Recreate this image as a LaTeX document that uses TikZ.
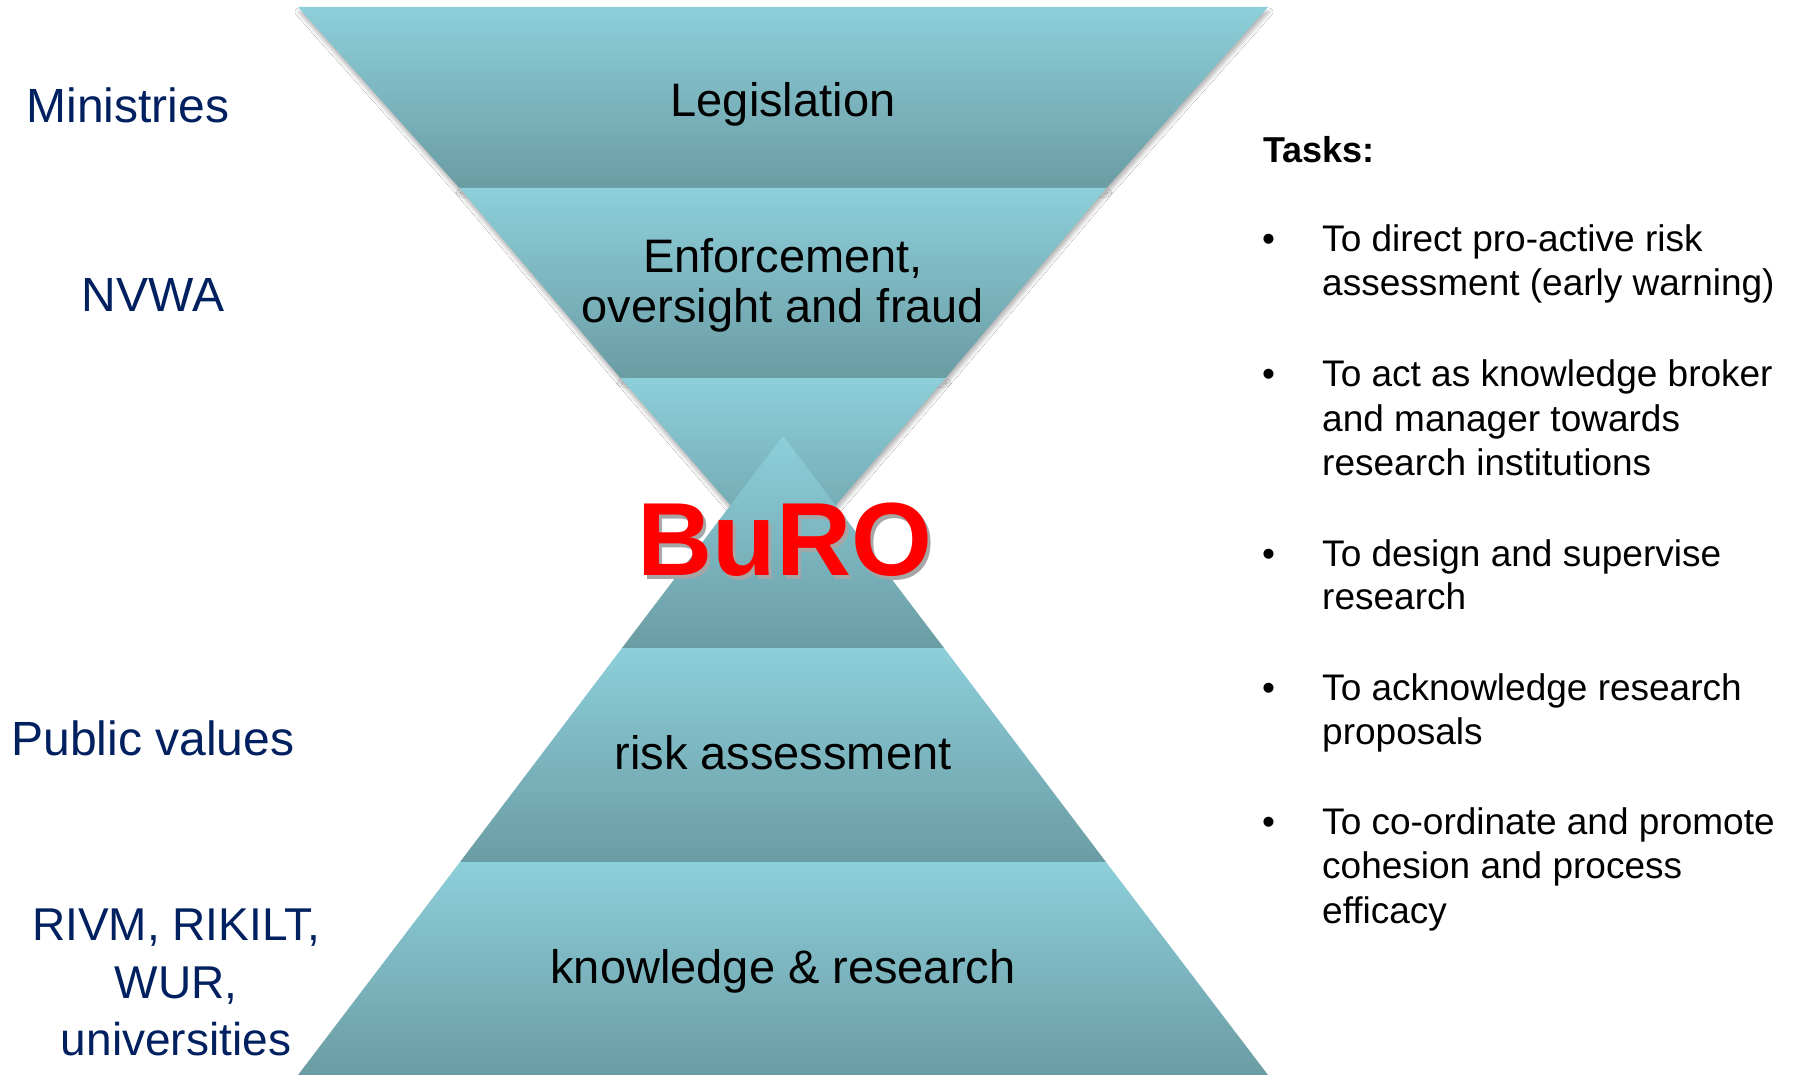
\documentclass[tikz,border=0pt]{standalone}
\usepackage{fontspec}
\setmainfont{Liberation Sans}
\usetikzlibrary{shadows.blur}

\definecolor{bandtop}{HTML}{8DCFDA}
\definecolor{bandbot}{HTML}{6B9CA4}
\definecolor{navy}{HTML}{002060}
\definecolor{burored}{HTML}{FF0000}

\newcommand{\pxfont}[1]{\fontsize{#1}{#1}\selectfont}
% red lettering with a soft grey offset copy behind it
\newcommand{\shadowed}[1]{{\color{black!35}\rlap{\hspace{3pt}\raisebox{-4pt}{#1}}}{\color{burored}#1}}

\begin{document}
\begin{tikzpicture}[x=1pt,y=-1pt,
  band/.style={top color=bandtop, bottom color=bandbot, draw=none},
  fband/.style={band, blur shadow={shadow xshift=1pt, shadow yshift=-5pt,
      shadow blur radius=4pt, shadow opacity=30}},
  bandtext/.style={anchor=base, inner sep=0pt, font=\pxfont{47}, text=black},
  side/.style={anchor=base, inner sep=0pt, font=\pxfont{48}, text=navy},
  sidesmall/.style={side, font=\pxfont{46}},
  task/.style={anchor=base west, inner sep=0pt, font=\pxfont{37}, text=black},
  dot/.style={anchor=base west, inner sep=0pt, font=\pxfont{37}, text=black},
]
\fill[white] (0,0) rectangle (1796,1075);
\useasboundingbox (0,0) rectangle (1796,1075);

% inverted funnel
\path[fband] (298,7) -- (1268,7) -- (1106.5,188) -- (459.5,188) -- cycle;
\path[fband] (459.5,188) -- (1106.5,188) -- (945.5,378) -- (620.5,378) -- cycle;
\path[fband] (620.5,378) -- (945.5,378) -- (783,566) -- cycle;

% upright pyramid
\path[band] (783,436) -- (944,648) -- (622,648) -- cycle;
\path[band] (622,648) -- (944,648) -- (1106,862) -- (460,862) -- cycle;
\path[band] (460,862) -- (1106,862) -- (1268,1075) -- (298,1075) -- cycle;

% level labels
\node[bandtext] (legis) at (783,117) {Legislation};
\node[bandtext] (enf1) at (783,273) {Enforcement,};
\node[bandtext] (enf2) at (783,322) {oversight and fraud};
\node[bandtext] (risk) at (783,769) {risk assessment};
\node[bandtext] (know) at (783,983) {knowledge \& research};

% centre mark
\node[anchor=base, inner sep=0pt, font=\bfseries\pxfont{104}]
  (buro) at (785,575) {\shadowed{BuRO}};

% actors
\node[side] (min) at (128,123) {Ministries};
\node[side] (nvwa) at (153,312) {NVWA};
\node[side] (pub) at (153,755) {Public values};
\node[sidesmall] (inst1) at (176,940) {RIVM, RIKILT,};
\node[sidesmall] (inst2) at (176,998) {WUR,};
\node[sidesmall] (inst3) at (176,1055) {universities};

% tasks
\node[anchor=base west, inner sep=0pt, font=\bfseries\pxfont{36}] (tasks) at (1263,163) {Tasks:};

\node[dot] (d1) at (1262,252) {•};
\node[task] (t1a) at (1322,252) {To direct pro-active risk};
\node[task] (t1b) at (1322,296) {assessment (early warning)};

\node[dot] (d2) at (1262,386) {•};
\node[task] (t2a) at (1322,386) {To act as knowledge broker};
\node[task] (t2b) at (1322,431) {and manager towards};
\node[task] (t2c) at (1322,475) {research institutions};

\node[dot] (d3) at (1262,566) {•};
\node[task] (t3a) at (1322,566) {To design and supervise};
\node[task] (t3b) at (1322,609) {research};

\node[dot] (d4) at (1262,700) {•};
\node[task] (t4a) at (1322,700) {To acknowledge research};
\node[task] (t4b) at (1322,744) {proposals};

\node[dot] (d5) at (1262,834) {•};
\node[task] (t5a) at (1322,834) {To co-ordinate and promote};
\node[task] (t5b) at (1322,878) {cohesion and process};
\node[task] (t5c) at (1322,923) {efficacy};
\end{tikzpicture}
\end{document}
